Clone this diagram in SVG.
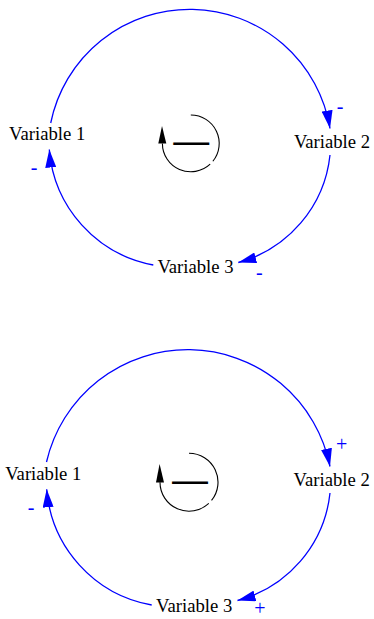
<svg xmlns="http://www.w3.org/2000/svg" width="374" height="619" viewBox="0 0 374 619">
<style>
.lbl{font-family:"Liberation Serif","Times New Roman",serif;font-size:18.67px;fill:#000;text-anchor:middle}
.pol{font-family:"Liberation Serif","Times New Roman",serif;font-size:20px;fill:#0000FF;text-anchor:middle}
.lnk{fill:none;stroke:#0000FF;stroke-width:1.3;marker-end:url(#ah)}
.loop{fill:none;stroke:#000;stroke-width:1.1}
.dash{font-family:"Liberation Sans",Arial,sans-serif;font-size:36px;fill:#000;text-anchor:middle}
</style>
<defs>
<marker id="ah" viewBox="0 0 18 11" refX="18" refY="5.5" markerWidth="18" markerHeight="11" markerUnits="userSpaceOnUse" orient="auto">
<path d="M0,0 L18,5.5 L0,11 z" fill="#0000FF"/>
</marker>
</defs>
<rect width="374" height="619" fill="#fff"/>
<g id="connectors">
<path class="lnk" d="M50.7,123 A142,142 0 0 1 330,128.5"/>
<path class="lnk" d="M330,155 A125,125 0 0 1 238.3,262.5"/>
<path class="lnk" d="M153.3,265 A127.7,127.7 0 0 1 49.3,149.5"/>
<path class="lnk" d="M46.5,462 A145,145 0 0 1 330,466.5"/>
<path class="lnk" d="M330,493 A125,125 0 0 1 237.5,600.5"/>
<path class="lnk" d="M151.7,605 A127.7,127.7 0 0 1 46.7,489.3"/>
</g>
<g id="polarities">
<text class="pol" x="340" y="112.8">-</text>
<text class="pol" x="259.3" y="278.5">-</text>
<text class="pol" x="34" y="174">-</text>
<text class="pol" x="341.7" y="451">+</text>
<text class="pol" x="260" y="614.5">+</text>
<text class="pol" x="31" y="513.8">-</text>
</g>
<g id="var1_top"><text class="lbl" x="47.2" y="140">Variable 1</text></g>
<g id="var2_top"><text class="lbl" x="332" y="148.3">Variable 2</text></g>
<g id="var3_top"><text class="lbl" x="195.5" y="272.5">Variable 3</text></g>
<g id="loop_top">
<path class="loop" d="M190.8,115 A28.4,28.4 0 0 1 212.87,161.27 M210.17,164.17 A28.4,28.4 0 0 1 162.4,143.4"/>
<polygon points="158.3,143.4 166.3,143.4 162,126" fill="#000"/>
<text class="dash" x="191.3" y="153.4">—</text>
</g>
<g id="var1_bottom"><text class="lbl" x="43.3" y="479.5">Variable 1</text></g>
<g id="var2_bottom"><text class="lbl" x="331.7" y="486">Variable 2</text></g>
<g id="var3_bottom"><text class="lbl" x="194.2" y="612">Variable 3</text></g>
<g id="loop_bottom">
<path class="loop" d="M189,453.2 A29,29 0 0 1 211.54,500.45 M208.78,503.41 A29,29 0 0 1 160,482.2"/>
<polygon points="156,482.4 164,482.4 159.6,464" fill="#000"/>
<text class="dash" x="190" y="491.7">—</text>
</g>
</svg>
